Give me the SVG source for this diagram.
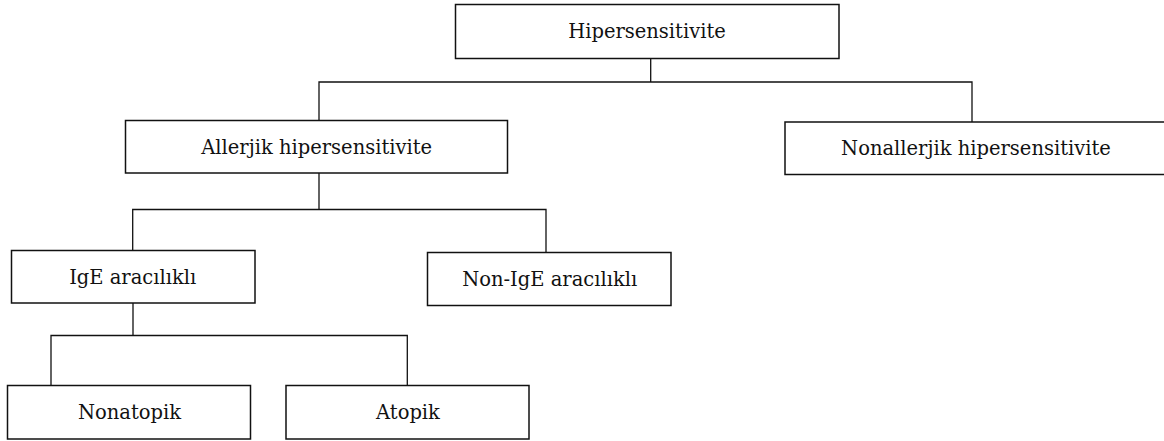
<svg xmlns="http://www.w3.org/2000/svg" width="1164" height="441" viewBox="0 0 1164 441">
<style>
.box{fill:#fff;stroke:#111;stroke-width:1.5}
.lbl{font-family:"DejaVu Serif","Liberation Serif",serif;font-size:19.5px;fill:#111;text-anchor:middle}
.conn{fill:none;stroke:#111;stroke-width:1.3}
</style>
<rect width="1164" height="441" fill="#fff"/>
<g id="connectors">
<path class="conn" d="M650.7,58.5 V82 M319,120.5 V82 H972 V122"/>
<path class="conn" d="M319,173 V209.5 M132.7,250.5 V209.5 H546 V252.5"/>
<path class="conn" d="M133,303 V335.5 M51,385.5 V335.5 H407.3 V385.5"/>
</g>
<g id="hipersensitivite"><rect class="box" x="455.5" y="4.5" width="383.5" height="54"/><text class="lbl" x="647" y="37.5">Hipersensitivite</text></g>
<g id="allerjik"><rect class="box" x="125.5" y="120.5" width="382" height="52.5"/><text class="lbl" x="316.7" y="153.5">Allerjik hipersensitivite</text></g>
<g id="nonallerjik"><rect class="box" x="785" y="122" width="385" height="52.5"/><text class="lbl" x="976" y="154.5">Nonallerjik hipersensitivite</text></g>
<g id="ige"><rect class="box" x="11.5" y="250.5" width="243.5" height="52.5"/><text class="lbl" x="132.7" y="284">IgE aracılıklı</text></g>
<g id="nonige"><rect class="box" x="427.5" y="252.5" width="243.5" height="53"/><text class="lbl" x="549.7" y="286">Non-IgE aracılıklı</text></g>
<g id="nonatopik"><rect class="box" x="7.5" y="385.5" width="243" height="53.5"/><text class="lbl" x="129.5" y="418.5">Nonatopik</text></g>
<g id="atopik"><rect class="box" x="286" y="385.5" width="243" height="53.5"/><text class="lbl" x="408" y="418.5">Atopik</text></g>
</svg>
